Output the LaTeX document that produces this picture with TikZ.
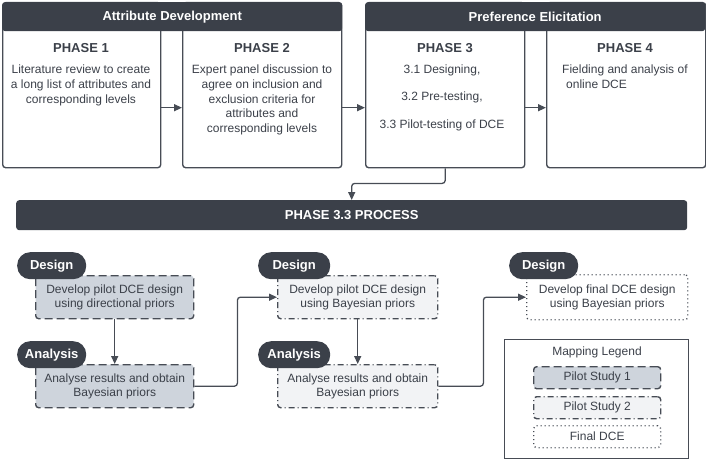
\documentclass[tikz,border=0pt]{standalone}
\usepackage{fontspec}
\setmainfont{Liberation Sans}
\usetikzlibrary{arrows.meta,positioning}
\definecolor{darkslate}{HTML}{3B4049}
\definecolor{linegray}{HTML}{474C55}
\definecolor{fillone}{HTML}{CED4DC}
\definecolor{filltwo}{HTML}{F2F3F5}
\tikzset{
  phasebox/.style={draw=linegray, line width=1.4pt, rounded corners=3pt, anchor=north west, minimum height=165pt, inner sep=0pt},
  header/.style={fill=darkslate, rounded corners=3pt, text=white, font=\bfseries\fontsize{13}{15}\selectfont, minimum height=29pt, anchor=north west, inner sep=0pt},
  phasetitle/.style={font=\bfseries\fontsize{13}{15}\selectfont, text=darkslate},
  phasetext/.style={font=\fontsize{12}{14.6}\selectfont, text=darkslate, align=center, anchor=north, inner sep=0pt},
  pill/.style={fill=darkslate, rounded corners=13pt, text=white, font=\bfseries\fontsize{13}{15}\selectfont, minimum height=27pt, minimum width=69pt, inner sep=0pt, anchor=north west},
  stepbox/.style={draw=linegray, line width=1.4pt, rounded corners=3pt, minimum width=158pt, minimum height=43pt, font=\fontsize{12}{14.6}\selectfont, text=darkslate, align=center, anchor=north west, inner sep=0pt},
  pilotone/.style={stepbox, fill=fillone, dash pattern=on 8pt off 4pt},
  pilottwo/.style={stepbox, fill=filltwo, dash pattern=on 6pt off 3pt on 1pt off 3pt},
  finaldce/.style={stepbox, fill=white, dash pattern=on 1pt off 3pt},
  flow/.style={draw=linegray, line width=1.3pt, rounded corners=3pt, -{Triangle[length=8pt,width=7pt]}}
}
\begin{document}
\begin{tikzpicture}[x=1pt, y=-1pt]
\useasboundingbox (0,0) rectangle (706,460);
% top row of phases
\node[phasebox, minimum width=158pt] (p1) at (2,2) {};
\node[phasebox, minimum width=159pt] (p2) at (182,2) {};
\node[phasebox, minimum width=159pt] (p3) at (365,2) {};
\node[phasebox, minimum width=159pt] (p4) at (546,2) {};
\node[header, minimum width=340pt] (hdra) at (2,2) {Attribute Development};
\node[header, minimum width=340pt] (hdrb) at (365,2) {Preference Elicitation};
\node[phasetitle] (t1) at (81,48) {PHASE 1};
\node[phasetitle] (t2) at (262,48) {PHASE 2};
\node[phasetitle] (t3) at (445,48) {PHASE 3};
\node[phasetitle] (t4) at (625,48) {PHASE 4};
\node[phasetext] (x1) at (81,65) {Literature review to create\\a long list of attributes and\\corresponding levels};
\node[phasetext] (x2) at (262,65) {Expert panel discussion to\\agree on inclusion and\\exclusion criteria for\\attributes and\\corresponding levels};
\node[phasetext] (x3) at (442,65) {3.1 Designing,\\[12.5pt]3.2 Pre-testing,\\[13pt]3.3 Pilot-testing of DCE};
\node[phasetext, anchor=north west, align=left] (x4) at (562,65) {Fielding and analysis of\\\hspace*{4pt}online DCE};
\draw[flow] ([yshift=-22.5pt]p1.east) -- ([yshift=-22.5pt]p2.west);
\draw[flow] ([yshift=-22.5pt]p2.east) -- ([yshift=-22.5pt]p3.west);
\draw[flow] ([yshift=-22.5pt]p3.east) -- ([yshift=-22.5pt]p4.west);
% phase 3.3 process
\node[header, minimum width=671pt, minimum height=30pt] (bar) at (16,200) {PHASE 3.3 PROCESS};
\draw[flow] (p3.south) -- ++(0,15) -| (bar.north);
\node[pilotone] (d1) at (35,275) {Develop pilot DCE design\\using directional priors};
\node[pilotone] (a1) at (35,364) {Analyse results and obtain\\Bayesian priors};
\node[pilottwo, minimum width=160pt] (d2) at (277,275) {Develop pilot DCE design\\using Bayesian priors};
\node[pilottwo, minimum width=160pt] (a2) at (277,364) {Analyse results and obtain\\Bayesian priors};
\node[finaldce, minimum width=161pt, minimum height=45pt] (d3) at (526,274) {Develop final DCE design\\using Bayesian priors};
\node[pill] (pd1) at (17,252) {Design};
\node[pill] (pa1) at (17,341) {Analysis};
\node[pill, minimum width=72pt] (pd2) at (258,252) {Design};
\node[pill, minimum width=72pt] (pa2) at (258,341) {Analysis};
\node[pill] (pd3) at (509,252) {Design};
\draw[flow] (d1.south) -- (a1.north);
\draw[flow] (a1.east) -- ++(43,0) |- (d2.west);
\draw[flow] (d2.south) -- (a2.north);
\draw[flow] (a2.east) -- ++(45,0) |- (d3.west);
% legend
\node[draw=linegray, line width=1.3pt, minimum width=184pt, minimum height=119pt, anchor=north west, inner sep=0pt] (legend) at (504,339) {};
\node[font=\fontsize{12}{14}\selectfont, text=darkslate] (legtitle) at (597,352) {Mapping Legend};
\node[pilotone, minimum width=127pt, minimum height=22pt] (l1) at (533,366) {Pilot Study 1};
\node[pilottwo, minimum width=127pt, minimum height=22pt] (l2) at (533,396) {Pilot Study 2};
\node[finaldce, minimum width=127pt, minimum height=22pt] (l3) at (533,425) {Final DCE};
\end{tikzpicture}
\end{document}
